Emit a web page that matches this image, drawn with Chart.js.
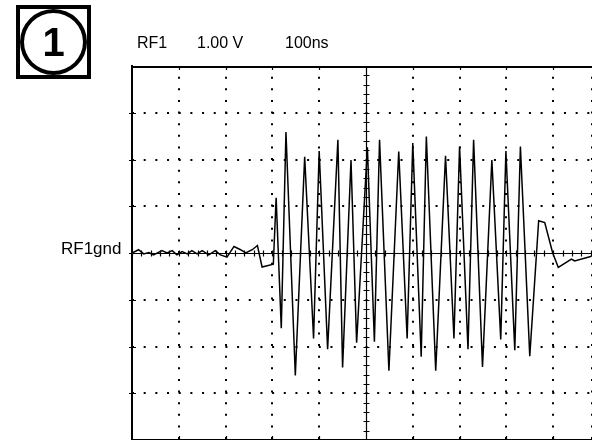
<!DOCTYPE html>
<html>
<head>
<meta charset="utf-8">
<script src="https://cdn.jsdelivr.net/npm/chart.js@4"></script>
<style>
  body { margin: 0; background: #fff; font-family: "Liberation Sans", Arial, sans-serif; }
  #wrap { position: relative; width: 592px; height: 440px; }
  .lbl { position: absolute; font-size: 16px; line-height: 16px; color: #000; white-space: nowrap; }
  #badge { position: absolute; left: 16px; top: 5px; width: 75px; height: 74px; border: 4px solid #000; box-sizing: border-box; }
  #badge div { width: 100%; height: 100%; box-sizing: border-box; border: 4px solid #000; border-radius: 50%;
    font-weight: bold; font-size: 40px; line-height: 58px; text-align: center; }
</style>
</head>
<body>
<div id="wrap">
  <canvas id="scope"></canvas>
  <div id="badge"><div>1</div></div>
  <div class="lbl" style="left:137px; top:35px;">RF1</div>
  <div class="lbl" style="left:197px; top:35px;">1.00 V</div>
  <div class="lbl" style="left:285px; top:35px;">100ns</div>
  <div class="lbl" style="left:61px; top:240px; font-size:17px; line-height:17px;">RF1gnd</div>
</div>
<script>
// trace samples (time in ns, 100 ns/div; volts, 1 V/div)
const timeNs = [0, 14, 25, 36, 46, 64, 75, 86, 96, 107, 118, 128, 139, 150, 164, 178, 189, 203, 218, 232,
  243, 257, 268, 278, 302, 308, 319, 329, 349, 369, 388, 400, 418, 440, 450, 468, 480, 503, 518, 529,
  549, 570, 588, 600, 618, 629, 649, 670, 688, 700, 718, 730, 749, 769, 788, 799, 818, 830, 850, 869,
  882, 899, 911, 939, 946, 982];
const volts = [0, 0.07, -0.02, 0.01, -0.04, 0.05, 0, 0.05, -0.04, 0.03, -0.02, 0.05, -0.02, 0.05, -0.04, 0.05, -0.04, -0.09, 0.14, 0.07,
  0, 0.07, 0.16, -0.30, -0.24, 1.18, -1.61, 2.59, -2.62, 2.06, -1.83, 2.18, -2.06, 2.42, -2.45, 1.99, -1.92, 2.26, -1.90, 2.42,
  -2.52, 2.17, -1.83, 2.35, -2.22, 2.49, -2.52, 2.08, -1.83, 2.28, -2.06, 2.42, -2.44, 1.99, -1.85, 2.18, -2.08, 2.28, -2.21, 0.69,
  0.65, 0, -0.31, -0.13, -0.17, -0.07];

const points = timeNs.map((t, i) => ({ x: t, y: volts[i] }));

// solid center cross with minor ticks, top border and border ticks
const scopeAxes = {
  id: "scopeAxes",
  beforeDatasetsDraw(chart) {
    const { ctx, chartArea: a, scales: { x, y } } = chart;
    const al = (p) => Math.round(p) + 0.5;
    const cx = al(x.getPixelForValue(500));
    const cy = al(y.getPixelForValue(0));
    ctx.save();
    ctx.strokeStyle = "#000";
    ctx.lineWidth = 1.2;
    ctx.beginPath();
    ctx.moveTo(cx, a.top); ctx.lineTo(cx, a.bottom);
    ctx.moveTo(a.left, cy); ctx.lineTo(a.right, cy);
    for (let t = 0; t <= 1000; t += 20) {
      const px = al(x.getPixelForValue(t));
      if (px > a.right) break;
      ctx.moveTo(px, cy - 3); ctx.lineTo(px, cy + 3);
    }
    for (let k = -20; k <= 20; k++) {
      const py = al(y.getPixelForValue(k / 5));
      ctx.moveTo(cx - 3, py); ctx.lineTo(cx + 3, py);
    }
    for (let t = 100; t <= 900; t += 100) {
      const px = al(x.getPixelForValue(t));
      ctx.moveTo(px, a.top); ctx.lineTo(px, a.top + 4);
      ctx.moveTo(px, a.bottom); ctx.lineTo(px, a.bottom - 4);
    }
    for (let v = -3; v <= 3; v++) {
      const py = al(y.getPixelForValue(v));
      ctx.moveTo(a.left - 3, py); ctx.lineTo(a.left + 4, py);
    }
    ctx.stroke();
    ctx.lineWidth = 2;
    ctx.beginPath();
    ctx.moveTo(a.left - 1, a.top + 1); ctx.lineTo(a.right, a.top + 1);
    ctx.stroke();
    ctx.restore();
  },
};

const dotColor = (skip) => (c) => (skip.includes(c.tick.value) ? "rgba(0,0,0,0)" : "#000");

new Chart(document.getElementById("scope"), {
  type: "line",
  data: {
    datasets: [{
      data: points,
      borderColor: "#000",
      borderWidth: 1.5,
      pointRadius: 0,
      tension: 0,
      fill: false,
    }],
  },
  options: {
    responsive: true,
    maintainAspectRatio: false,
    animation: false,
    events: [],
    layout: { padding: { left: 132, top: 66, right: 0, bottom: 0 } },
    plugins: { legend: { display: false }, tooltip: { enabled: false } },
    scales: {
      x: {
        type: "linear",
        min: 0,
        max: 983,
        ticks: { display: false, stepSize: 100 },
        grid: { color: dotColor([0, 500]), lineWidth: 2, drawTicks: false },
        border: { display: true, color: "#000", width: 2, dash: [2, 9.625], dashOffset: 1 },
      },
      y: {
        min: -4,
        max: 4,
        ticks: { display: false, stepSize: 1 },
        grid: { color: dotColor([-4, 0, 4]), lineWidth: 2, drawTicks: false },
        border: { display: true, color: "#000", width: 2, dash: [2, 9.675], dashOffset: 1 },
      },
    },
  },
  plugins: [scopeAxes],
});
</script>
</body>
</html>
